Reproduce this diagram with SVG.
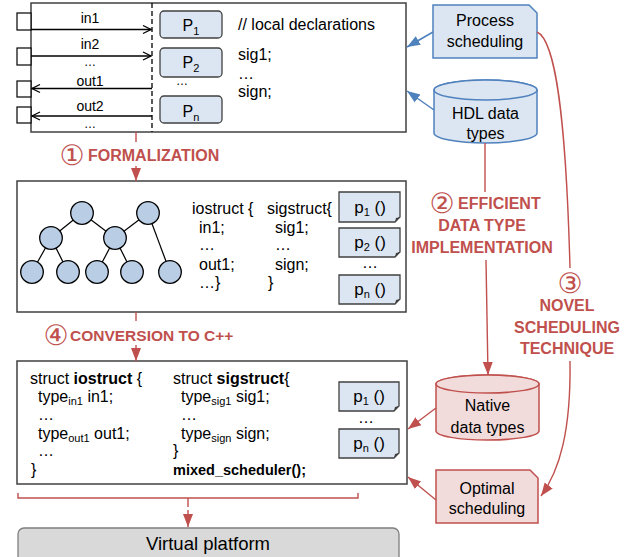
<svg xmlns="http://www.w3.org/2000/svg" width="632" height="557" viewBox="0 0 632 557">
<style>
text{font-family:"Liberation Sans",Arial,sans-serif;fill:#000}
.t14{font-size:14px}
.t16{font-size:16px}
.dots{font-size:12px}
.b{font-weight:bold}
.red{fill:#c0504d;font-weight:bold;font-size:16px}
.circ{font-family:"DejaVu Sans",sans-serif;font-weight:normal;font-size:28px;fill:#c0504d}
.box{fill:#fff;stroke:#404040;stroke-width:1.5}
.pbox{fill:#dce6f2;stroke:#404040;stroke-width:1.3}
.bluenode{fill:#dce6f2;stroke:#4f81bd;stroke-width:1.5}
.rednode{fill:#f2dcdb;stroke:#c0504d;stroke-width:1.5}
.tc{fill:#b9cde5;stroke:#000;stroke-width:1.3}
.edge{stroke:#000;stroke-width:1.2}
.blk{stroke:#000;stroke-width:1.3;fill:none}
.blu{stroke:#4f81bd;stroke-width:1.5;fill:none}
.rl{stroke:#c0504d;stroke-width:1.4;fill:none}
.sub{font-size:11px}
</style>
<defs>
<marker id="open" markerWidth="10" markerHeight="10" refX="9" refY="5" orient="auto" markerUnits="userSpaceOnUse">
<path d="M1,1 L9,5 L1,9" fill="none" stroke="#000" stroke-width="1.2"/>
</marker>
<marker id="bh" markerWidth="14" markerHeight="12" refX="13" refY="6" orient="auto" markerUnits="userSpaceOnUse">
<path d="M0,1 L13,6 L0,11 Z" fill="#4f81bd"/>
</marker>
<marker id="rh" markerWidth="14" markerHeight="12" refX="13" refY="6" orient="auto" markerUnits="userSpaceOnUse">
<path d="M0,1 L13,6 L0,11 Z" fill="#c0504d"/>
</marker>
</defs>

<g id="hdl-module">
<rect class="box" x="31" y="3" width="375" height="129"/>
<line x1="152" y1="3" x2="152" y2="132" stroke="#000" stroke-width="1.3" stroke-dasharray="5,3"/>
<rect x="17" y="13" width="14" height="17" fill="#fff" stroke="#000" stroke-width="1.2"/>
<rect x="17" y="48" width="14" height="17" fill="#fff" stroke="#000" stroke-width="1.2"/>
<rect x="17" y="81" width="14" height="16" fill="#fff" stroke="#000" stroke-width="1.2"/>
<rect x="17" y="107" width="14" height="16" fill="#fff" stroke="#000" stroke-width="1.2"/>
<line class="blk" x1="31" y1="29.5" x2="151" y2="29.5" marker-end="url(#open)"/>
<line class="blk" x1="31" y1="56" x2="151" y2="56" marker-end="url(#open)"/>
<line class="blk" x1="152" y1="88.5" x2="32" y2="88.5" marker-end="url(#open)"/>
<line class="blk" x1="152" y1="116" x2="32" y2="116" marker-end="url(#open)"/>
<text class="t14" x="90" y="23" text-anchor="middle">in1</text>
<text class="t14" x="90" y="49" text-anchor="middle">in2</text>
<text class="dots" x="90" y="66" text-anchor="middle">…</text>
<text class="t14" x="90" y="86" text-anchor="middle">out1</text>
<text class="t14" x="90" y="111" text-anchor="middle">out2</text>
<text class="dots" x="90" y="128" text-anchor="middle">…</text>
<rect class="pbox" x="160" y="11" width="62" height="27" rx="4"/>
<rect class="pbox" x="160" y="48" width="62" height="29" rx="4"/>
<rect class="pbox" x="160" y="96" width="62" height="27" rx="4"/>
<text class="t16" x="191" y="31" text-anchor="middle">P<tspan class="sub" dy="4">1</tspan></text>
<text class="t16" x="191" y="68" text-anchor="middle">P<tspan class="sub" dy="4">2</tspan></text>
<text class="t16" x="191" y="117" text-anchor="middle">P<tspan class="sub" dy="4">n</tspan></text>
<text class="dots" x="182" y="85" text-anchor="middle">…</text>
<text class="t16" x="238" y="30">// local declarations</text>
<text class="t16" x="238" y="60">sig1;</text>
<text class="t16" x="238" y="79">…</text>
<text class="t16" x="238" y="97">sign;</text>
</g>

<g id="process-scheduling">
<path class="bluenode" d="M433,5 H529 L537,13 V58 H433 Z"/>
<text class="t16" x="485" y="26" text-anchor="middle">Process</text>
<text class="t16" x="485" y="47" text-anchor="middle">scheduling</text>
</g>

<g id="hdl-data-types">
<path class="bluenode" d="M434,90 V133 A51.5,10 0 0 0 537,133 V90 A51.5,10 0 0 0 434,90 Z"/>
<ellipse class="bluenode" cx="485.5" cy="90" rx="51.5" ry="10"/>
<text class="t16" x="485.5" y="119" text-anchor="middle">HDL data</text>
<text class="t16" x="485.5" y="139" text-anchor="middle">types</text>
</g>

<g id="formal-model">
<rect class="box" x="17" y="181" width="389" height="131"/>
<line class="edge" x1="82" y1="213" x2="51" y2="238"/>
<line class="edge" x1="82" y1="213" x2="115" y2="238"/>
<line class="edge" x1="148" y1="213" x2="115" y2="238"/>
<line class="edge" x1="148" y1="213" x2="170" y2="272"/>
<line class="edge" x1="51" y1="238" x2="32" y2="272"/>
<line class="edge" x1="51" y1="238" x2="68" y2="272"/>
<line class="edge" x1="115" y1="238" x2="97" y2="272"/>
<line class="edge" x1="115" y1="238" x2="132" y2="272"/>
<circle class="tc" cx="82" cy="213" r="11.3"/>
<circle class="tc" cx="148" cy="213" r="11.3"/>
<circle class="tc" cx="51" cy="238" r="11.3"/>
<circle class="tc" cx="115" cy="238" r="11.3"/>
<circle class="tc" cx="32" cy="272" r="11.3"/>
<circle class="tc" cx="68" cy="272" r="11.3"/>
<circle class="tc" cx="97" cy="272" r="11.3"/>
<circle class="tc" cx="132" cy="272" r="11.3"/>
<circle class="tc" cx="170" cy="272" r="11.3"/>
<text class="t16" x="192" y="214">iostruct {</text>
<text class="t16" x="199" y="233">in1;</text>
<text class="t16" x="199" y="250">…</text>
<text class="t16" x="199" y="270">out1;</text>
<text class="t16" x="199" y="288">…}</text>
<text class="t16" x="267" y="214">sigstruct{</text>
<text class="t16" x="275" y="233">sig1;</text>
<text class="t16" x="275" y="250">…</text>
<text class="t16" x="275" y="270">sign;</text>
<text class="t16" x="268" y="288">}</text>
<path class="pbox" d="M339,192 H400 V217 L395,222 H339 Z"/>
<path d="M395,222 L396,218 L400,217 Z" fill="#404040"/>
<path class="pbox" d="M339,228 H400 V252 L395,257 H339 Z"/>
<path d="M395,257 L396,253 L400,252 Z" fill="#404040"/>
<path class="pbox" d="M339,275 H400 V299 L395,304 H339 Z"/>
<path d="M395,304 L396,300 L400,299 Z" fill="#404040"/>
<text x="370" y="213" text-anchor="middle" style="font-size:17px">p<tspan class="sub" dy="3">1</tspan><tspan dy="-3"> ()</tspan></text>
<text x="370" y="248" text-anchor="middle" style="font-size:17px">p<tspan class="sub" dy="3">2</tspan><tspan dy="-3"> ()</tspan></text>
<text x="370" y="295" text-anchor="middle" style="font-size:17px">p<tspan class="sub" dy="3">n</tspan><tspan dy="-3"> ()</tspan></text>
<text class="t16" x="370" y="268" text-anchor="middle">…</text>
</g>

<g id="cpp-model">
<rect class="box" x="17" y="361" width="390" height="123"/>
<text class="t16" x="30" y="384">struct <tspan class="b">iostruct</tspan> {</text>
<text class="t16" x="38" y="402">type<tspan class="sub" dy="3">in1</tspan><tspan dy="-3"> in1;</tspan></text>
<text class="t16" x="38" y="420">…</text>
<text class="t16" x="38" y="439">type<tspan class="sub" dy="3">out1</tspan><tspan dy="-3"> out1;</tspan></text>
<text class="t16" x="38" y="456">…</text>
<text class="t16" x="31" y="475">}</text>
<text class="t16" x="173" y="384">struct <tspan class="b">sigstruct</tspan>{</text>
<text class="t16" x="181" y="402">type<tspan class="sub" dy="3">sig1</tspan><tspan dy="-3"> sig1;</tspan></text>
<text class="t16" x="181" y="420">…</text>
<text class="t16" x="181" y="439">type<tspan class="sub" dy="3">sign</tspan><tspan dy="-3"> sign;</tspan></text>
<text class="t16" x="173" y="456">}</text>
<text class="b" x="173" y="475" style="font-size:14.5px">mixed_scheduler();</text>
<path class="pbox" d="M339,382 H399 V406 L394,411 H339 Z"/>
<path d="M394,411 L395,407 L399,406 Z" fill="#404040"/>
<path class="pbox" d="M339,429 H399 V453 L394,458 H339 Z"/>
<path d="M394,458 L395,454 L399,453 Z" fill="#404040"/>
<text x="369" y="402" text-anchor="middle" style="font-size:17px">p<tspan class="sub" dy="3">1</tspan><tspan dy="-3"> ()</tspan></text>
<text x="369" y="449" text-anchor="middle" style="font-size:17px">p<tspan class="sub" dy="3">n</tspan><tspan dy="-3"> ()</tspan></text>
<text class="t16" x="366" y="423" text-anchor="middle">…</text>
</g>

<g id="native-data-types">
<path class="rednode" d="M436,384 V431 A51.5,9 0 0 0 539,431 V384 A51.5,9 0 0 0 436,384 Z"/>
<ellipse class="rednode" cx="487.5" cy="384" rx="51.5" ry="9"/>
<text class="t16" x="487.5" y="411" text-anchor="middle">Native</text>
<text class="t16" x="487.5" y="433" text-anchor="middle">data types</text>
</g>

<g id="optimal-scheduling">
<path class="rednode" d="M436,470 H530 L538,478 V523 H436 Z"/>
<text class="t16" x="487" y="494" text-anchor="middle">Optimal</text>
<text class="t16" x="487" y="514" text-anchor="middle">scheduling</text>
</g>

<g id="virtual-platform">
<rect x="18" y="528" width="381" height="40" rx="6" fill="#d9d9d9" stroke="#7f7f7f" stroke-width="1.3"/>
<text x="208" y="550" text-anchor="middle" style="font-size:18.5px">Virtual platform</text>
</g>

<g id="labels">
<text class="circ" x="72" y="165" text-anchor="middle">①</text>
<text class="red" x="88" y="161">FORMALIZATION</text>
<text class="circ" x="56" y="345" text-anchor="middle">④</text>
<text class="red" x="70" y="341" style="font-size:15.5px">CONVERSION TO C++</text>
<text class="circ" x="442" y="213" text-anchor="middle">②</text>
<text class="red" x="458" y="209">EFFICIENT</text>
<text class="red" x="482" y="231" text-anchor="middle">DATA TYPE</text>
<text class="red" x="482" y="253" text-anchor="middle">IMPLEMENTATION</text>
<text class="circ" x="570" y="293" text-anchor="middle">③</text>
<text class="red" x="567" y="311" text-anchor="middle">NOVEL</text>
<text class="red" x="567" y="333" text-anchor="middle">SCHEDULING</text>
<text class="red" x="567" y="354" text-anchor="middle">TECHNIQUE</text>
</g>

<g id="connectors">
<line class="blu" x1="433" y1="32" x2="407" y2="47" marker-end="url(#bh)"/>
<line class="blu" x1="434" y1="110" x2="407" y2="91" marker-end="url(#bh)"/>
<line class="rl" x1="136" y1="132" x2="136" y2="142"/>
<line class="rl" x1="136" y1="166" x2="136" y2="181" marker-end="url(#rh)"/>
<line class="rl" x1="136" y1="312" x2="136" y2="321"/>
<line class="rl" x1="136" y1="345" x2="136" y2="361" marker-end="url(#rh)"/>
<line class="rl" x1="485" y1="143" x2="485" y2="192"/>
<line class="rl" x1="486" y1="260" x2="488" y2="375" marker-end="url(#rh)"/>
<path class="rl" d="M537,32 C556,40 566,120 570,268"/>
<path class="rl" d="M570,361 C571,430 560,470 541,496" marker-end="url(#rh)"/>
<line class="rl" x1="436" y1="408" x2="408" y2="429" marker-end="url(#rh)"/>
<line class="rl" x1="436" y1="500" x2="408" y2="477" marker-end="url(#rh)"/>
<path class="rl" d="M18,493 V498 H358 V493"/>
<line class="rl" x1="188" y1="498" x2="188" y2="527" stroke-dasharray="9,3" marker-end="url(#rh)"/>
</g>
</svg>
